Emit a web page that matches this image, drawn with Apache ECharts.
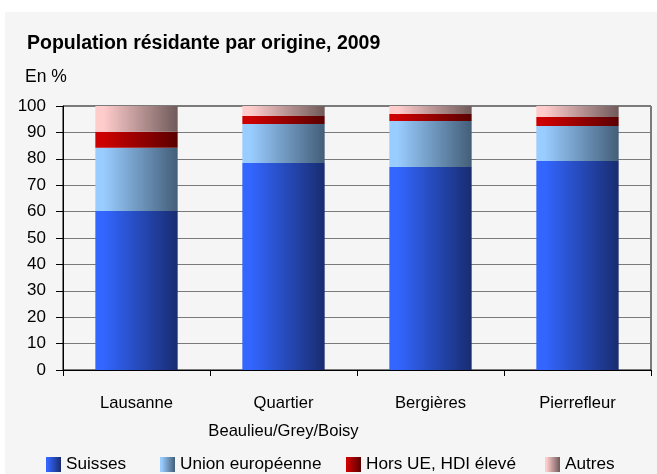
<!DOCTYPE html>
<html><head><meta charset="utf-8">
<script src="https://cdn.jsdelivr.net/npm/echarts@6/dist/echarts.min.js"></script>
<style>html,body{margin:0;padding:0;background:#fff}#c{width:657px;height:474px}</style>
</head><body><div id="c"></div>
<script>
const categories = ['Lausanne', 'Quartier\nBeaulieu/Grey/Boisy', 'Bergières', 'Pierrefleur'];
const suisses = [60.2, 78.4, 76.9, 79.2];
const unionEuropeenne = [24.0, 14.8, 17.4, 13.2];
const horsUE = [6.0, 3.0, 2.7, 3.4];
const autres = [9.8, 3.8, 3.0, 4.2];
const seriesNames = ['Suisses', 'Union européenne', 'Hors UE, HDI élevé', 'Autres'];
const yTicks = [0, 10, 20, 30, 40, 50, 60, 70, 80, 90, 100];

const FONT = 'Liberation Sans, Arial, sans-serif';
function grad(a, b) {
  return new echarts.graphic.LinearGradient(0, 0, 1, 0, [
    { offset: 0, color: a }, { offset: 0.1, color: a }, { offset: 1, color: b }
  ]);
}
const colors = [
  grad('#3366FF', '#182C70'),
  grad('#99CCFF', '#435E78'),
  grad('#CC0000', '#5A0000'),
  grad('#FFCCCC', '#705A5A')
];
const data = [suisses, unionEuropeenne, horsUE, autres];
const legendLeft = [46, 160, 346, 545];

const chart = echarts.init(document.getElementById('c'), null, { renderer: 'canvas' });
chart.setOption({
  animation: false,
  backgroundColor: '#ffffff',
  graphic: [
    { type: 'rect', left: 5, top: 12, shape: { width: 652, height: 462 }, style: { fill: '#F5F5F5' }, z: -10 },
    { type: 'text', left: 25, top: 68, style: { text: 'En %', font: '17.5px ' + FONT, fill: '#000' } }
  ],
  title: {
    text: 'Population résidante par origine, 2009',
    left: 22, top: 29,
    textStyle: { fontFamily: FONT, fontSize: 19.5, fontWeight: 'bold', color: '#000' }
  },
  legend: seriesNames.map((n, i) => ({
    data: [n], left: legendLeft[i], top: 456, padding: 0,
    icon: 'rect', itemWidth: 15, itemHeight: 15, itemGap: 0,
    textStyle: { fontFamily: FONT, fontSize: 17.2, color: '#000' }
  })),
  grid: { left: 63, right: 6, top: 106, bottom: 104, show: true, borderColor: '#000', borderWidth: 1, backgroundColor: 'transparent' },
  xAxis: {
    type: 'category', data: categories,
    axisLine: { lineStyle: { color: '#000', width: 1 } },
    axisTick: { show: true, length: 6, lineStyle: { color: '#000' } },
    axisLabel: { fontFamily: FONT, fontSize: 16.6, color: '#000', margin: 19, lineHeight: 28, interval: 0 }
  },
  yAxis: {
    type: 'value', min: 0, max: 100, interval: 10,
    axisLine: { show: true, lineStyle: { color: '#000', width: 1 } },
    axisTick: { show: true, length: 7, lineStyle: { color: '#000' } },
    splitLine: { show: true, lineStyle: { color: '#7a7a7a', width: 1 } },
    axisLabel: { fontFamily: FONT, fontSize: 17, color: '#000', margin: 17,
      formatter: v => yTicks.includes(v) ? String(v) : '' }
  },
  series: seriesNames.map((n, i) => ({
    name: n, type: 'bar', stack: 'total', data: data[i],
    barWidth: '56%',
    itemStyle: { color: colors[i] }
  }))
});
</script></body></html>
